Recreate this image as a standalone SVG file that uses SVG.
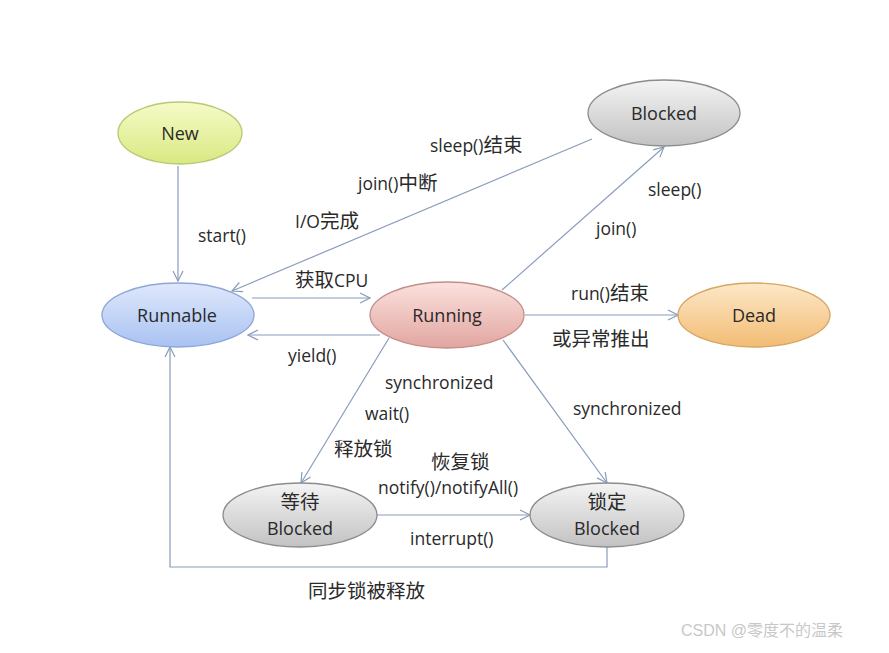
<svg xmlns="http://www.w3.org/2000/svg" width="889" height="653" viewBox="0 0 889 653">
<defs>
<linearGradient id="gNew" x1="0" y1="0" x2="0" y2="1"><stop offset="0" stop-color="#f6fbc8"/><stop offset="1" stop-color="#d9e982"/></linearGradient>
<linearGradient id="gRunnable" x1="0" y1="0" x2="0" y2="1"><stop offset="0" stop-color="#dfe8fb"/><stop offset="1" stop-color="#a9c2f2"/></linearGradient>
<linearGradient id="gRunning" x1="0" y1="0" x2="0" y2="1"><stop offset="0" stop-color="#fbe2de"/><stop offset="1" stop-color="#e2a5a0"/></linearGradient>
<linearGradient id="gDead" x1="0" y1="0" x2="0" y2="1"><stop offset="0" stop-color="#fde8c8"/><stop offset="1" stop-color="#f2bc74"/></linearGradient>
<linearGradient id="gBlocked" x1="0" y1="0" x2="0" y2="1"><stop offset="0" stop-color="#f4f4f4"/><stop offset="1" stop-color="#c2c2c2"/></linearGradient>
<marker id="arr" viewBox="0 0 12 12" refX="11" refY="6" markerWidth="12" markerHeight="12" markerUnits="userSpaceOnUse" orient="auto">
<path d="M1,1 L11,6 L1,11" fill="none" stroke="#8a9cbc" stroke-width="1.2"/>
</marker>
</defs>
<style>
.node{stroke-width:1.3}
.t{font-family:"Open Sans","Noto Sans CJK SC",sans-serif;font-size:17.5px;fill:#2a2a2a}
.cj{font-size:19.5px}
.n{font-family:"Open Sans","Noto Sans CJK SC",sans-serif;font-size:18px;fill:#2a2a2a;text-anchor:middle;dominant-baseline:central}
.c{fill:none;stroke:#8a9cbc;stroke-width:1.2;marker-end:url(#arr)}
.wm{font-family:"Liberation Sans","Noto Sans CJK SC",sans-serif;font-size:16px;fill:#c8c8c8}
</style>
<rect width="889" height="653" fill="#ffffff"/>
<g id="connectors">
<line class="c" x1="178" y1="166" x2="178" y2="281"/>
<line class="c" x1="592" y1="139" x2="232" y2="291"/>
<line class="c" x1="502" y1="290" x2="664" y2="147"/>
<line class="c" x1="252" y1="298" x2="370" y2="298"/>
<line class="c" x1="380" y1="335" x2="248" y2="335"/>
<line class="c" x1="525" y1="315" x2="678" y2="315"/>
<line class="c" x1="389" y1="338" x2="301" y2="483"/>
<line class="c" x1="503" y1="340" x2="607" y2="483"/>
<line class="c" x1="377" y1="515" x2="530" y2="515"/>
<polyline class="c" points="607,547 607,567 170,567 170,347"/>
</g>
<g id="new"><ellipse class="node" cx="180" cy="133" rx="62" ry="31" fill="url(#gNew)" stroke="#b9c874"/><text class="n" x="180" y="133">New</text></g>
<g id="runnable"><ellipse class="node" cx="178" cy="315" rx="76" ry="32" fill="url(#gRunnable)" stroke="#8ea6d8"/><text class="n" x="177" y="315">Runnable</text></g>
<g id="running"><ellipse class="node" cx="447" cy="315" rx="77" ry="33" fill="url(#gRunning)" stroke="#c48e8a"/><text class="n" x="447" y="315">Running</text></g>
<g id="dead"><ellipse class="node" cx="754" cy="315" rx="76" ry="32" fill="url(#gDead)" stroke="#d6a664"/><text class="n" x="754" y="315">Dead</text></g>
<g id="blocked"><ellipse class="node" cx="664" cy="113" rx="76" ry="33" fill="url(#gBlocked)" stroke="#8c8c8c"/><text class="n" x="664" y="113">Blocked</text></g>
<g id="waiting"><ellipse class="node" cx="300" cy="515" rx="77" ry="32" fill="url(#gBlocked)" stroke="#8c8c8c"/><text class="n" x="300" y="501" style="font-size:19.5px">等待</text><text class="n" x="300" y="528">Blocked</text></g>
<g id="locked"><ellipse class="node" cx="607" cy="515" rx="77" ry="32" fill="url(#gBlocked)" stroke="#8c8c8c"/><text class="n" x="607" y="501" style="font-size:19.5px">锁定</text><text class="n" x="607" y="528">Blocked</text></g>
<g id="labels">
<text class="t" x="198" y="242">start()</text>
<text class="t" x="430" y="152">sleep()<tspan class="cj">结束</tspan></text>
<text class="t" x="358" y="190">join()<tspan class="cj">中断</tspan></text>
<text class="t" x="295" y="228">I/O<tspan class="cj">完成</tspan></text>
<text class="t" x="295" y="287"><tspan class="cj">获取</tspan>CPU</text>
<text class="t" x="288" y="362">yield()</text>
<text class="t" x="648" y="196">sleep()</text>
<text class="t" x="596" y="235">join()</text>
<text class="t" x="571" y="300">run()<tspan class="cj">结束</tspan></text>
<text class="t cj" x="552" y="346">或异常推出</text>
<text class="t" x="385" y="389">synchronized</text>
<text class="t" x="365" y="420">wait()</text>
<text class="t cj" x="334" y="456">释放锁</text>
<text class="t cj" x="431" y="469">恢复锁</text>
<text class="t" x="378" y="494">notify()/notifyAll()</text>
<text class="t" x="573" y="415">synchronized</text>
<text class="t" x="410" y="545">interrupt()</text>
<text class="t cj" x="308" y="598">同步锁被释放</text>
</g>
<text class="wm" x="681" y="636">CSDN @零度不的温柔</text>
</svg>
